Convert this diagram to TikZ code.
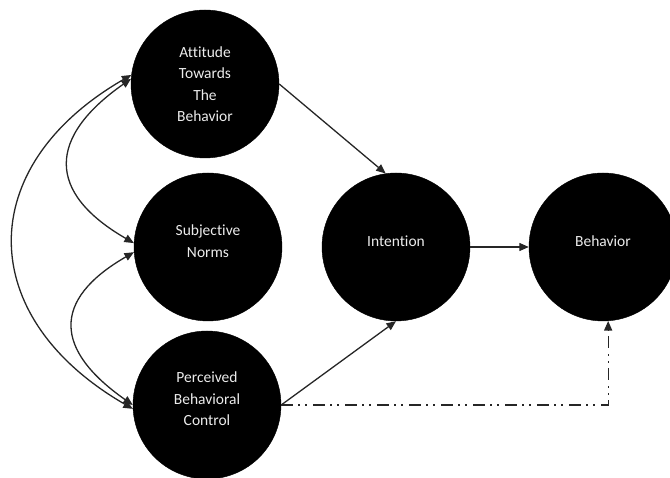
\documentclass[tikz,border=0pt]{standalone}
\usepackage{fontspec}
\setmainfont{Carlito}[Ligatures=NoCommon]
\usetikzlibrary{arrows.meta}
\begin{document}
\begin{tikzpicture}[x=1pt,y=1pt,
  construct/.style={circle,fill=black,draw=black,minimum size=148pt,inner sep=0pt,
    text=white!92!black,align=center,font=\fontsize{15.5}{21.5}\selectfont},
  raised/.style={text depth=12pt},
  tip/.style={Triangle[length=9.5pt,width=8pt]},
  conn/.style={line width=1.3pt,draw=black!85,-{Triangle[length=9.5pt,width=8pt]}},
  biconn/.style={line width=1.3pt,draw=black!85,{Triangle[length=9.5pt,width=8pt]}-{Triangle[length=9.5pt,width=8pt]}},
  dashdot/.style={line width=1.3pt,draw=black!85,dash pattern=on 12pt off 5pt on 2pt off 5pt on 2pt off 6pt,-{Triangle[length=9.5pt,width=8pt]}}
]
\useasboundingbox (0,0) rectangle (670,478);
\node[construct] (att) at (205,394) {Attitude\\Towards\\The\\Behavior};
\node[construct,raised] (subj) at (208,231) {Subjective\\Norms};
\node[construct,raised] (pbc) at (207,73) {Perceived\\Behavioral\\Control};
\node[construct,raised] (int) at (396,231) {Intention};
\node[construct,raised] (beh) at (603,231) {Behavior};

\draw[conn] (att.east) -- (int.98);
\draw[conn] (pbc.east) -- (int.south);
\draw[conn] (int.east) -- (beh.west);
\draw[dashdot] (pbc.east) -| (beh.-86);

\draw[biconn] (att.176) to[out=215,in=150,looseness=1.58] (subj.177);
\draw[biconn] (subj.184) to[out=210,in=145,looseness=1.6] (pbc.180);
\draw[biconn] (att.173) to[out=210,in=150,looseness=1.4] (pbc.183);
\end{tikzpicture}
\end{document}
